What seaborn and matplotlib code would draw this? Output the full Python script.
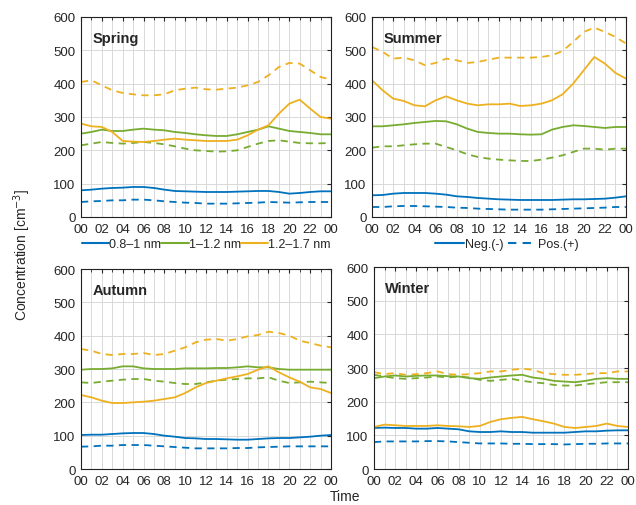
import numpy as np
import pandas as pd
import matplotlib
matplotlib.use("Agg")
import matplotlib.pyplot as plt
from matplotlib.lines import Line2D
from matplotlib.ticker import MultipleLocator, FixedLocator
import seaborn as sns

hours = list(range(25))
tick_labels = ["00", "02", "04", "06", "08", "10", "12", "14", "16", "18", "20", "22", "00"]
seasons = ["Spring", "Summer", "Autumn", "Winter"]
sizes = ["0.8\u20131 nm", "1\u20131.2 nm", "1.2\u20131.7 nm"]
polarities = ["Neg.(-)", "Pos.(+)"]

# Spring
spring_b_neg = [80, 82, 85, 87, 88, 90, 90, 87, 82, 78, 77, 76, 75, 75, 75, 76, 77, 78, 78, 75, 70, 72, 75, 77, 77]
spring_b_pos = [45, 47, 48, 50, 50, 52, 52, 50, 47, 45, 43, 42, 40, 40, 40, 41, 42, 43, 45, 44, 43, 44, 45, 45, 45]
spring_g_neg = [250, 255, 262, 258, 258, 262, 265, 262, 260, 255, 252, 248, 245, 243, 243, 248, 255, 262, 272, 265, 258, 255, 252, 248, 248]
spring_g_pos = [215, 220, 225, 222, 220, 222, 225, 222, 218, 212, 205, 200, 198, 196, 197, 200, 210, 220, 228, 230, 226, 222, 221, 221, 222]
spring_y_neg = [280, 272, 270, 255, 228, 226, 225, 228, 232, 235, 232, 230, 228, 228, 228, 232, 245, 262, 275, 310, 340, 352, 325, 300, 295]
spring_y_pos = [405, 410, 395, 380, 372, 368, 365, 365, 368, 380, 385, 388, 383, 382, 385, 388, 395, 405, 425, 450, 462, 460, 440, 420, 412]

# Summer
summer_b_neg = [65, 66, 70, 72, 72, 72, 70, 67, 62, 60, 57, 55, 53, 52, 51, 51, 51, 51, 52, 53, 53, 54, 55, 58, 62]
summer_b_pos = [30, 30, 32, 33, 33, 32, 31, 30, 28, 27, 25, 24, 23, 22, 22, 22, 22, 23, 24, 25, 26, 27, 28, 30, 30]
summer_g_neg = [272, 272, 275, 278, 282, 285, 288, 287, 278, 265, 255, 252, 250, 250, 248, 247, 248, 262, 270, 275, 273, 270, 267, 270, 270]
summer_g_pos = [208, 212, 212, 215, 218, 220, 220, 210, 200, 188, 180, 175, 172, 170, 168, 168, 172, 178, 185, 195, 205, 205, 202, 205, 205]
summer_y_neg = [410, 380, 355, 348, 335, 332, 350, 362, 350, 340, 335, 338, 338, 340, 333, 335, 340, 350, 368, 400, 440, 480, 460, 432, 415]
summer_y_pos = [510, 495, 475, 478, 470, 455, 462, 475, 470, 462, 465, 472, 478, 478, 478, 478, 480, 485, 498, 525, 555, 568, 555, 540, 520]

# Autumn
autumn_b_neg = [102, 103, 103, 105, 107, 108, 108, 105, 100, 97, 93, 92, 90, 90, 89, 88, 88, 90, 92, 93, 93, 95, 97, 100, 102]
autumn_b_pos = [67, 68, 70, 70, 72, 72, 72, 70, 68, 66, 64, 62, 62, 62, 62, 63, 63, 65, 66, 67, 68, 68, 68, 68, 68]
autumn_g_neg = [298, 300, 300, 302, 308, 308, 302, 300, 300, 300, 302, 302, 302, 303, 303, 305, 308, 305, 305, 300, 298, 298, 298, 298, 298]
autumn_g_pos = [260, 258, 262, 265, 268, 270, 270, 265, 262, 258, 255, 255, 260, 265, 268, 270, 272, 272, 275, 265, 258, 260, 262, 260, 258]
autumn_y_neg = [222, 215, 205, 198, 198, 200, 202, 205, 210, 215, 228, 245, 258, 265, 272, 278, 285, 298, 308, 290, 275, 262, 245, 240, 228]
autumn_y_pos = [360, 355, 345, 342, 345, 345, 348, 342, 345, 355, 365, 380, 388, 390, 385, 390, 398, 402, 412, 408, 400, 385, 378, 370, 365]

# Winter
winter_b_neg = [122, 123, 122, 122, 120, 120, 122, 120, 118, 112, 110, 110, 112, 110, 110, 108, 108, 108, 108, 110, 112, 112, 114, 115, 115]
winter_b_pos = [80, 82, 82, 82, 82, 83, 83, 82, 80, 78, 76, 76, 76, 75, 75, 74, 74, 74, 73, 74, 75, 75, 76, 76, 76]
winter_g_neg = [270, 275, 278, 275, 277, 278, 278, 276, 275, 270, 268, 272, 275, 278, 280, 272, 268, 262, 260, 258, 262, 268, 270, 268, 268]
winter_g_pos = [280, 275, 270, 268, 270, 272, 275, 272, 275, 272, 265, 262, 265, 268, 262, 258, 255, 250, 248, 248, 252, 255, 258, 258, 258]
winter_y_neg = [125, 132, 130, 128, 128, 128, 130, 128, 127, 125, 128, 140, 148, 152, 155, 148, 142, 135, 125, 122, 125, 128, 135, 128, 125]
winter_y_pos = [288, 282, 285, 280, 282, 285, 290, 282, 280, 282, 285, 290, 290, 295, 298, 295, 285, 282, 280, 280, 282, 285, 285, 290, 290]

season_data = {
    "Spring": [spring_b_neg, spring_b_pos, spring_g_neg, spring_g_pos, spring_y_neg, spring_y_pos],
    "Summer": [summer_b_neg, summer_b_pos, summer_g_neg, summer_g_pos, summer_y_neg, summer_y_pos],
    "Autumn": [autumn_b_neg, autumn_b_pos, autumn_g_neg, autumn_g_pos, autumn_y_neg, autumn_y_pos],
    "Winter": [winter_b_neg, winter_b_pos, winter_g_neg, winter_g_pos, winter_y_neg, winter_y_pos],
}

colors = {sizes[0]: "#0072BD", sizes[1]: "#77AC30", sizes[2]: "#EDB120"}

sns.set_style("white")
plt.rcParams["font.family"] = ["Liberation Sans", "DejaVu Sans"]

fig = plt.figure(figsize=(6.36, 5.06), dpi=100)
positions = {
    "Spring": [0.1274, 0.5692, 0.3930, 0.3953],
    "Summer": [0.5850, 0.5692, 0.3994, 0.3953],
    "Autumn": [0.1274, 0.0711, 0.3930, 0.3953],
    "Winter": [0.5880, 0.0711, 0.3994, 0.3990],
}

for season in seasons:
    vals = season_data[season]
    rows = []
    k = 0
    for s in sizes:
        for p in polarities:
            for h, v in zip(hours, vals[k]):
                rows.append({"hour": h, "value": v, "size": s, "pol": p})
            k += 1
    df = pd.DataFrame(rows)
    ax = fig.add_axes(positions[season])
    sns.lineplot(data=df, x="hour", y="value", hue="size", style="pol",
                 palette=colors, dashes={"Neg.(-)": "", "Pos.(+)": (4, 3)},
                 hue_order=sizes, style_order=polarities,
                 linewidth=1.3, legend=False, ax=ax)
    ax.set_xlim(0, 24)
    ax.set_ylim(0, 600)
    ax.xaxis.set_major_locator(FixedLocator(list(range(0, 25, 2))))
    ax.set_xticklabels(tick_labels)
    ax.xaxis.set_minor_locator(MultipleLocator(1))
    ax.yaxis.set_major_locator(MultipleLocator(100))
    ax.grid(True, which="major", axis="y", color="#d9d9d9", linewidth=0.7)
    ax.grid(True, which="both", axis="x", color="#d9d9d9", linewidth=0.7)
    ax.set_axisbelow(True)
    ax.tick_params(which="both", direction="in", top=True, right=True, labelsize=9.5)
    ax.tick_params(axis="x", pad=4)
    ax.tick_params(axis="y", pad=4)
    ax.tick_params(which="major", length=3)
    ax.tick_params(which="minor", length=2)
    ax.set_xlabel("")
    ax.set_ylabel("")
    for sp in ax.spines.values():
        sp.set_color("#222222")
        sp.set_linewidth(0.8)
    ax.text(0.045, 0.93, season, transform=ax.transAxes, fontsize=10.5,
            fontweight="bold", va="top", ha="left")

size_handles = [Line2D([0], [0], color=colors[s], lw=1.5) for s in sizes]
fig.legend(size_handles, sizes, loc="center", bbox_to_anchor=(0.324, 1 - 245 / 506),
           ncol=3, frameon=False, fontsize=9, handlelength=2.2, handletextpad=0.0,
           columnspacing=0.0, borderpad=0.1)
pol_handles = [Line2D([0], [0], color="#0072BD", lw=1.5),
               Line2D([0], [0], color="#0072BD", lw=1.5, dashes=(4, 3))]
fig.legend(pol_handles, polarities, loc="center", bbox_to_anchor=(0.797, 1 - 245 / 506),
           ncol=2, frameon=False, fontsize=9, handlelength=2.3, handletextpad=0.1,
           columnspacing=0.4, borderpad=0.1)

fig.text(22 / 636, 1 - 255 / 506, "Concentration [cm$^{-3}$]", rotation=90,
         ha="center", va="center", fontsize=10)
fig.text(345 / 636, 1 - 497 / 506, "Time", ha="center", va="center", fontsize=10)

fig.savefig("out.png", dpi=100)
